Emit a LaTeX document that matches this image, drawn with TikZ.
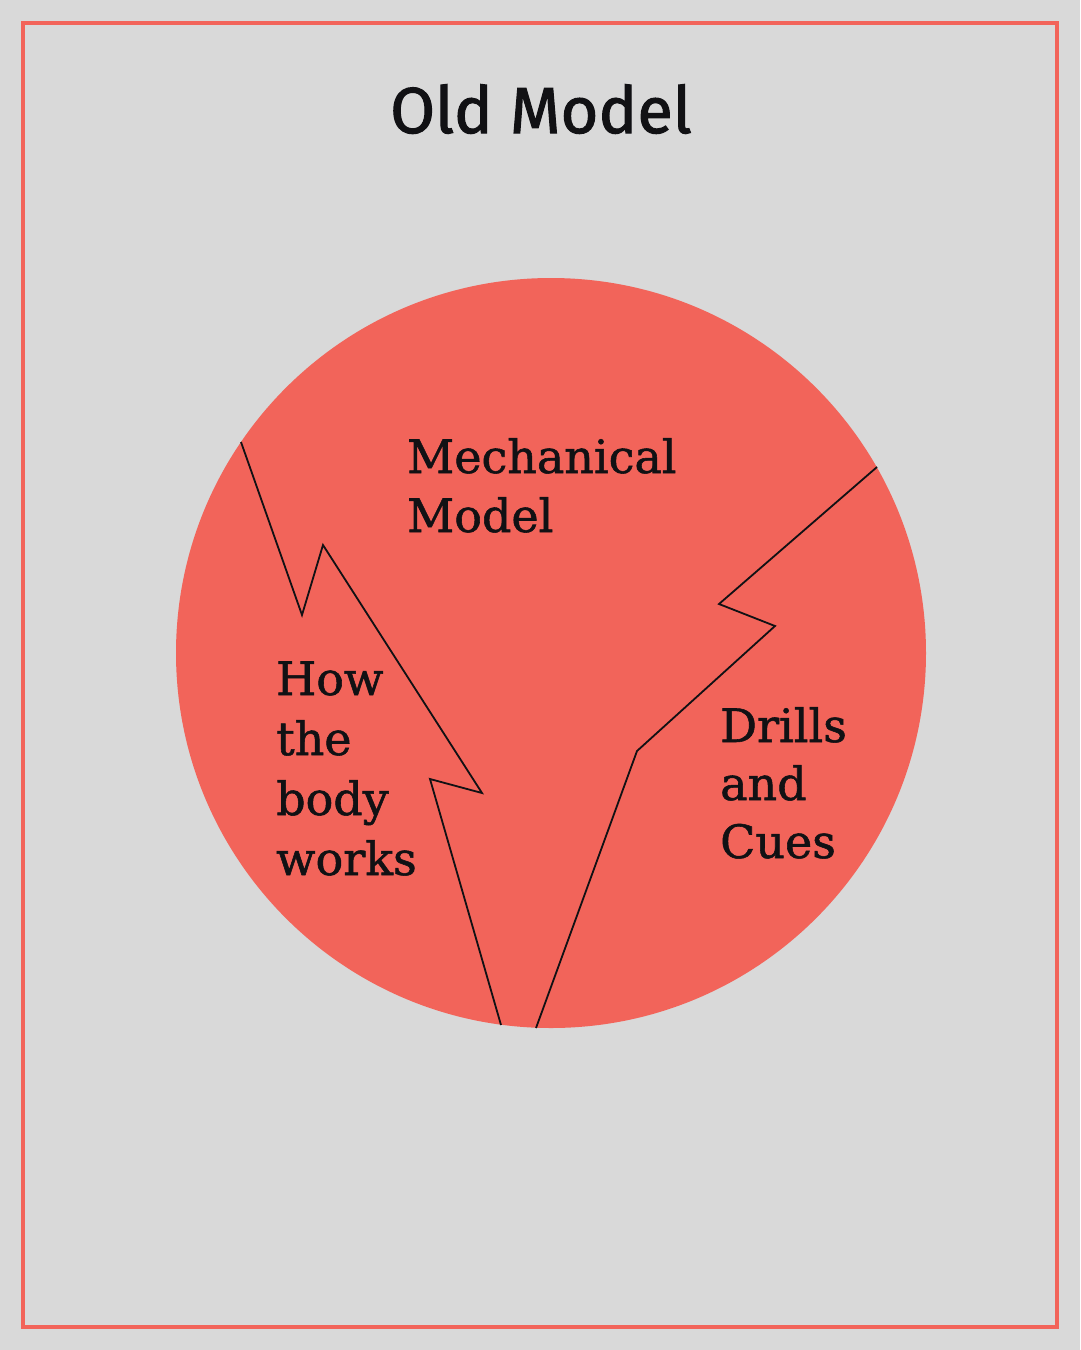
\documentclass[tikz,border=0pt]{standalone}
\usepackage{fontspec}
\newfontfamily\titlefont[FakeBold=1.6]{Fira Sans}
\newfontfamily\bodyfont[FakeBold=1.2]{DejaVu Serif}
\definecolor{bgc}{HTML}{D9D9D9}
\definecolor{redc}{HTML}{F2645A}
\definecolor{ink}{HTML}{111114}
\begin{document}
\begin{tikzpicture}[x=1pt,y=-1pt,
  lbl/.style={anchor=base west,inner sep=0pt,text=ink,font=\bodyfont\fontsize{46}{60}\selectfont},
  cut/.style={draw=ink,line width=1.8pt,line join=miter}]
\useasboundingbox (0,0) rectangle (1080,1350);
\fill[bgc] (0,0) rectangle (1080,1350);
\draw[redc,line width=4pt] (23,23) rectangle (1057,1327);
\node[anchor=base,inner sep=0pt,text=ink,font=\titlefont\fontsize{65}{70}\selectfont] (title) at (541,133) {Old Model};
\fill[redc] (551,653) circle (375);
\draw[cut] (241,442) -- (302,615) -- (323,545) -- (482,793) -- (430,779) -- (501,1025);
\draw[cut] (877,467) -- (719,604) -- (775,626) -- (637,751) -- (536,1028);
\node[lbl] (m1) at (407,473) {Mechanical};
\node[lbl] (m2) at (407,532) {Model};
\node[lbl] (h1) at (276,695) {How};
\node[lbl] (h2) at (276,755) {the};
\node[lbl] (h3) at (276,815) {body};
\node[lbl] (h4) at (276,875) {works};
\node[lbl] (d1) at (720,742) {Drills};
\node[lbl] (d2) at (720,800) {and};
\node[lbl] (d3) at (720,858) {Cues};
\end{tikzpicture}
\end{document}
